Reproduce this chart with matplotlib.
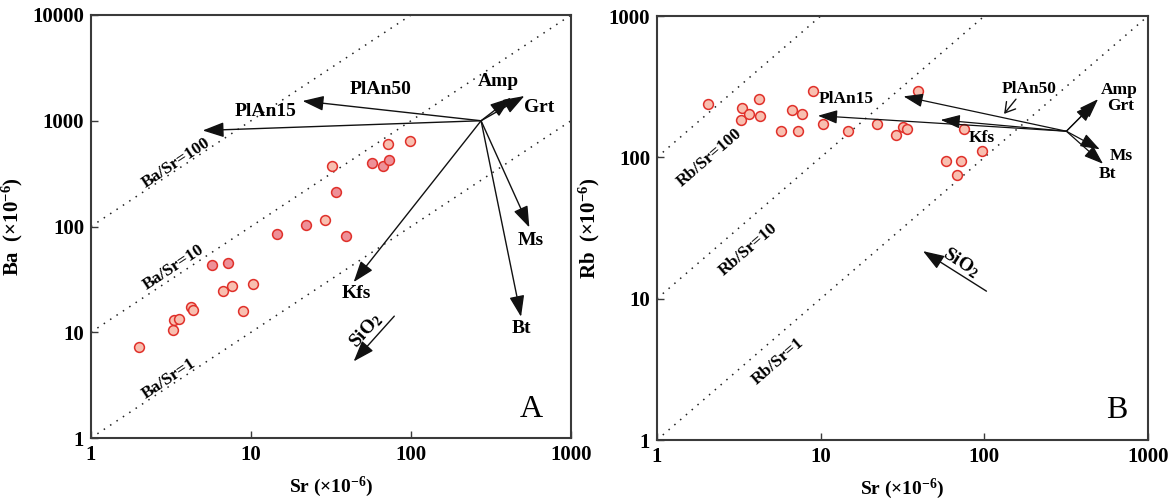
import matplotlib.pyplot as plt
import numpy as np

plt.rcParams['font.family'] = ['Liberation Serif', 'DejaVu Serif']
plt.rcParams['mathtext.fontset'] = 'custom'
plt.rcParams['mathtext.rm'] = 'Liberation Serif:bold'
plt.rcParams['mathtext.default'] = 'rm'

# ---- panel A data: Sr vs Ba (x10^-6) ----
sr_a_light = [2.0, 3.24, 3.29, 3.56, 4.22, 4.32, 6.65, 7.64, 10.3, 8.96, 29.1, 32.2, 71.8, 98.1]
ba_a_light = [7.3, 10.4, 13.0, 13.4, 17.4, 16.4, 24.5, 27.5, 28.4, 16.0, 114, 374, 605, 646]
sr_a_dark = [5.68, 7.18, 14.5, 22.1, 39.2, 34.0, 57.3, 66.8, 72.9]
ba_a_dark = [43.5, 44.9, 84.5, 104, 82, 210, 397, 376, 424]

# mineral vectors, panel A (origin then tips)
origin_a = (274, 1000)
vec_a = {
    'PlAn15': (4.99, 809),
    'PlAn50': (21.0, 1538),
    'Amp': (422, 1652),
    'Grt': (511, 1714),
    'Ms': (549, 98),
    'Bt': (487, 14.0),
    'Kfs': (43.8, 29.8),
}
sio2_a = [(78.6, 14.2), (43.8, 5.3)]

# ---- panel B data: Sr vs Rb (x10^-6) ----
sr_b = [2.04, 3.32, 3.24, 3.65, 4.18, 4.26, 5.75, 7.23, 6.68, 7.69, 8.93, 10.4,
        14.6, 22.0, 28.8, 31.8, 33.9, 39.5, 74.8, 96.4, 58.0, 72.3, 68.1]
rb_b = [240, 224, 184, 201, 257, 196, 153, 153, 215, 201, 294, 172,
        153, 172, 143, 164, 159, 294, 159, 111, 93.7, 93.7, 74.6]

origin_b = (317, 153)
vec_b = {
    'PlAn15': (9.63, 197),
    'PlAn50': (32.1, 270),
    'Kfs': (54.1, 184),
    'Amp': (495, 258),
    'Grt': (472, 242),
    'Ms': (507, 114),
    'Bt': (531, 90),
}
sio2_b = [(103, 11.3), (42.2, 21.7)]

ratios = [1, 10, 100]

edge_red = '#e0302a'
light_fill = '#f8bfb0'
dark_fill = '#ee9098'
spine_col = '#3a3a3a'

fig = plt.figure(figsize=(11.68, 5), dpi=100)
ax1 = fig.add_axes([0.0779, 0.124, 0.411, 0.846])
ax2 = fig.add_axes([0.5625, 0.12, 0.4204, 0.848])


def style_axes(ax, ymax, ylabel):
    ax.set_xscale('log')
    ax.set_yscale('log')
    ax.set_xlim(1, 1000)
    ax.set_ylim(1, ymax)
    ax.minorticks_off()
    ax.tick_params(direction='in', length=5, width=1, labelsize=15, pad=5, color=spine_col)
    ticks_x = [1, 10, 100, 1000]
    ax.set_xticks(ticks_x)
    ax.set_xticklabels([str(t) for t in ticks_x], fontweight='bold')
    ticks_y = [10 ** i for i in range(int(np.log10(ymax)) + 1)]
    ax.set_yticks(ticks_y)
    ax.set_yticklabels([str(t) for t in ticks_y], fontweight='bold')
    for s in ax.spines.values():
        s.set_color(spine_col)
        s.set_linewidth(1.5)
    ax.set_xlabel(r'Sr (×10$^{-6}$)', fontsize=14, fontweight='bold', labelpad=7)
    ax.set_ylabel(ylabel, fontsize=15, fontweight='bold', labelpad=5)


def arrow(ax, start, end, lw=1.0, hw=0.33, hl=0.93):
    ax.annotate('', xy=end, xytext=start,
                arrowprops=dict(arrowstyle='-|>,head_length=%.2f,head_width=%.2f' % (hl, hw),
                                color='#111111', lw=lw, shrinkA=0, shrinkB=0,
                                mutation_scale=14))


def ratio_lines(ax):
    xs = np.array([1, 1000])
    for r in ratios:
        ax.plot(xs, xs * r, color='#222222', lw=1.1, linestyle=(0, (1, 4)), zorder=1)


# ---------------- panel A ----------------
style_axes(ax1, 10000, r'Ba  (×10$^{-6}$)')
ratio_lines(ax1)
ax1.scatter(sr_a_light, ba_a_light, s=50, facecolor=light_fill, edgecolor=edge_red, lw=1.1, zorder=3)
ax1.scatter(sr_a_dark, ba_a_dark, s=50, facecolor=dark_fill, edgecolor=edge_red, lw=1.1, zorder=3)
for name, tip in vec_a.items():
    arrow(ax1, origin_a, tip)
arrow(ax1, sio2_a[0], sio2_a[1])

lab_kw = dict(fontsize=14, fontweight='bold', ha='center', va='center')
ax1.text(12.4, 1216, 'PlAn15', **lab_kw)
ax1.text(64.9, 1960, 'PlAn50', **lab_kw)
ax1.text(350, 2333, 'Amp', **lab_kw)
ax1.text(631, 1327, 'Grt', **lab_kw)
ax1.text(562, 73.8, 'Ms', **lab_kw)
ax1.text(487, 10.9, 'Bt', **lab_kw)
ax1.text(45.3, 23.3, 'Kfs', **lab_kw)
ax1.text(52.3, 10.4, r'SiO$_2$', rotation=48, **lab_kw)
rk = dict(fontsize=12.5, fontweight='bold', ha='center', va='center', rotation=33.5)
ax1.text(3.4, 402, 'Ba/Sr=100', **rk)
ax1.text(3.29, 41.3, 'Ba/Sr=10', **rk)
ax1.text(3.09, 3.66, 'Ba/Sr=1', **rk)
ax1.text(562, 1.84, 'A', fontsize=23, ha='center', va='center')

# ---------------- panel B ----------------
style_axes(ax2, 1000, r'Rb  (×10$^{-6}$)')
ratio_lines(ax2)
ax2.scatter(sr_b, rb_b, s=50, facecolor=light_fill, edgecolor=edge_red, lw=1.1, zorder=3)
for name, tip in vec_b.items():
    arrow(ax2, origin_b, tip, lw=0.9, hw=0.3, hl=0.85)
arrow(ax2, sio2_b[0], sio2_b[1], lw=1.0)
# pointer to PlAn50 vector
ax2.annotate('', xy=(132, 203), xytext=(156, 258),
             arrowprops=dict(arrowstyle='->,head_length=0.5,head_width=0.3',
                             color='#111111', lw=1.0, shrinkA=0, shrinkB=0, mutation_scale=14))

lb = dict(fontsize=12.5, fontweight='bold', ha='center', va='center')
ax2.text(14.4, 259, 'PlAn15', **lb)
ax2.text(188, 305, 'PlAn50', **lb)
ax2.text(95.9, 137, 'Kfs', **lb)
ax2.text(666, 300, 'Amp', **lb)
ax2.text(684, 232, 'Grt', **lb)
ax2.text(684, 102, 'Ms', **lb)
ax2.text(562, 76.3, 'Bt', **lb)
ax2.text(72.4, 17.9, r'SiO$_2$', rotation=-33, **dict(lb, fontsize=14))
rb = dict(fontsize=12.5, fontweight='bold', ha='center', va='center', rotation=40.8)
ax2.text(2.1, 98.6, 'Rb/Sr=100', **rb)
ax2.text(3.6, 22.1, 'Rb/Sr=10', **rb)
ax2.text(5.5, 3.58, 'Rb/Sr=1', **rb)
ax2.text(647, 1.63, 'B', fontsize=23, ha='center', va='center')

fig.savefig('out.png', dpi=100)
